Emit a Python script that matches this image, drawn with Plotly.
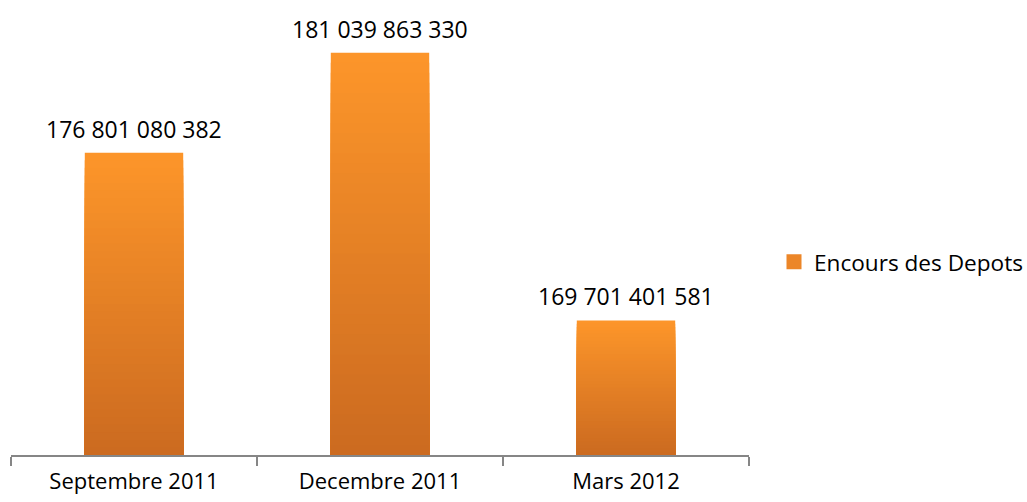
import plotly.graph_objects as go

categories = ["Septembre 2011", "Decembre 2011", "Mars 2012"]
values = [176801080382, 181039863330, 169701401581]
series_name = "Encours des Depots"

AXIS_MIN = 164e9
AXIS_MAX = 182e9
N_SLICES = 40
TOP_RGB = (253, 150, 42)
BOT_RGB = (203, 106, 32)
FONT = "Open Sans"
FSIZE = 23

fig = go.Figure()

# gradient: draw nested bars from the tallest (top colour) down to the shortest (bottom colour)
for k in range(N_SLICES, 0, -1):
    f1 = k / N_SLICES
    t = (k - 0.5) / N_SLICES  # 0 bottom -> 1 top
    rgb = tuple(round(BOT_RGB[i] + (TOP_RGB[i] - BOT_RGB[i]) * t) for i in range(3))
    color = "rgb(%d,%d,%d)" % rgb
    heights = [f1 * (v - AXIS_MIN) for v in values]
    fig.add_trace(go.Bar(
        x=categories, y=heights, base=[AXIS_MIN] * len(values), width=0.4,
        marker=dict(color=color, line=dict(width=0)),
        name=series_name, legendgroup="s", showlegend=False,
        hoverinfo="skip",
    ))

# legend entry (square swatch like the original)
fig.add_trace(go.Scatter(
    x=[None], y=[None], mode="markers", name=series_name, legendgroup="s",
    marker=dict(symbol="square", size=15, color="rgb(236,134,40)"),
    showlegend=True, hoverinfo="skip",
))

for c, v in zip(categories, values):
    fig.add_annotation(
        x=c, y=v, xref="x", yref="y",
        text=f"{v:,}".replace(",", " "),
        showarrow=False, yanchor="bottom", yshift=6,
        font=dict(family=FONT, size=FSIZE, color="#000000"),
    )

fig.update_layout(
    width=1027, height=502,
    margin=dict(l=11, r=278, t=30, b=47, autoexpand=False),
    paper_bgcolor="white", plot_bgcolor="white",
    barmode="overlay", bargap=0.6,
    showlegend=True,
    legend=dict(xref="container", yref="container",
                x=774 / 1027, y=1 - 262 / 502, xanchor="left", yanchor="middle",
                font=dict(family=FONT, size=22.6, color="#000000"),
                itemwidth=30, tracegroupgap=0, bgcolor="rgba(0,0,0,0)"),
    xaxis=dict(showline=True, linecolor="#868686", linewidth=1.5,
               ticks="outside", tickson="boundaries", ticklen=9,
               tickcolor="#868686", tickwidth=1.5,
               tickfont=dict(family=FONT, size=22, color="#000000"),
               ticklabelstandoff=6, automargin=False,
               showgrid=False, zeroline=False, fixedrange=True),
    yaxis=dict(range=[AXIS_MIN, AXIS_MAX], visible=False, showgrid=False,
               zeroline=False, automargin=False),
)

fig.write_html("out.html")
